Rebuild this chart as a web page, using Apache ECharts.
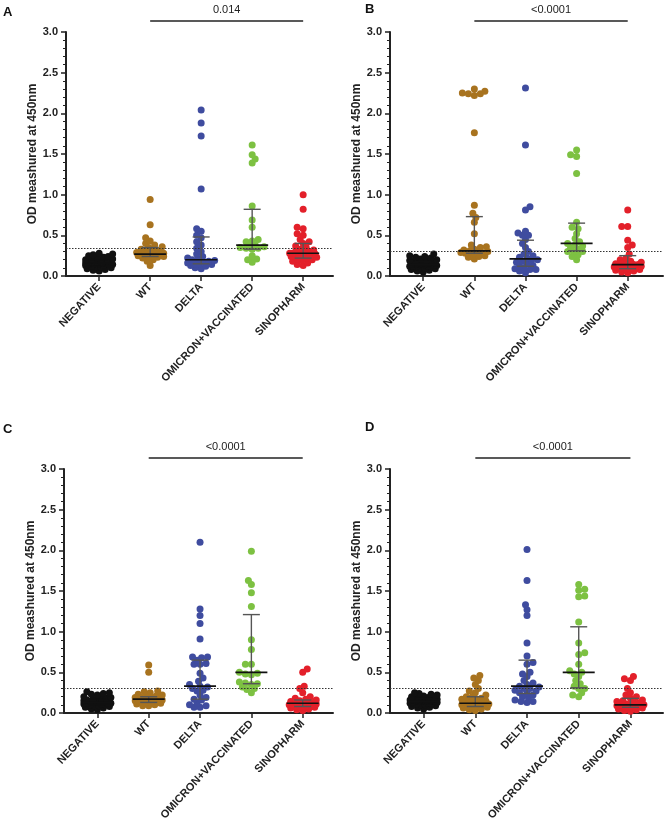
<!DOCTYPE html>
<html>
<head>
<meta charset="utf-8">
<script src="https://cdn.jsdelivr.net/npm/echarts@6/dist/echarts.min.js"></script>
<style>
  html, body { margin: 0; padding: 0; background: #fff; }
  #chartArea { width: 666px; height: 827px; }
</style>
</head>
<body>
<div id="chartArea"></div>
<script>
// categories / labels
const categories = ['NEGATIVE', 'WT', 'DELTA', 'OMICRON+VACCINATED', 'SINOPHARM'];
const groupColors = ['#111111', '#A8731F', '#3F4C9F', '#7DC142', '#E3202A'];
const panelLetters = ['A', 'B', 'C', 'D'];
const pValues = ['0.014', '<0.0001', '<0.0001', '<0.0001'];
const cutoffs = [0.34, 0.31, 0.30, 0.31];

// panel A
const negA = [0.28, 0.27, 0.26, 0.25, 0.24, 0.23, 0.22, 0.21, 0.2, 0.2, 0.19, 0.19, 0.18, 0.18, 0.17, 0.17, 0.17, 0.16, 0.16, 0.16, 0.15, 0.15, 0.15, 0.14, 0.14, 0.14, 0.13, 0.13, 0.12, 0.12, 0.11, 0.11, 0.1, 0.09, 0.08, 0.07, 0.06];
const wtA = [0.94, 0.63, 0.47, 0.43, 0.4, 0.38, 0.36, 0.35, 0.33, 0.32, 0.31, 0.3, 0.29, 0.28, 0.28, 0.27, 0.27, 0.26, 0.26, 0.25, 0.25, 0.24, 0.24, 0.23, 0.22, 0.2, 0.18, 0.13];
const deltaA = [2.04, 1.88, 1.72, 1.07, 0.58, 0.55, 0.5, 0.47, 0.42, 0.38, 0.34, 0.3, 0.27, 0.24, 0.22, 0.21, 0.2, 0.19, 0.18, 0.17, 0.16, 0.15, 0.15, 0.14, 0.13, 0.12, 0.1, 0.09];
const omiA = [1.61, 1.49, 1.44, 1.39, 0.86, 0.69, 0.6, 0.45, 0.43, 0.42, 0.38, 0.37, 0.36, 0.35, 0.34, 0.34, 0.33, 0.25, 0.21, 0.2, 0.17];
const sinoA = [1.0, 0.82, 0.6, 0.58, 0.52, 0.5, 0.45, 0.42, 0.4, 0.37, 0.35, 0.33, 0.32, 0.3, 0.3, 0.29, 0.28, 0.28, 0.27, 0.27, 0.26, 0.26, 0.25, 0.25, 0.24, 0.23, 0.22, 0.21, 0.2, 0.19, 0.18, 0.16, 0.14, 0.13];
// [q1, median, q3]
const iqrA = [[0.12, 0.16, 0.2], [0.24, 0.27, 0.35], [0.15, 0.2, 0.48], [0.33, 0.38, 0.82], [0.22, 0.28, 0.4]];

// panel B
const negB = [0.27, 0.25, 0.24, 0.23, 0.22, 0.21, 0.2, 0.19, 0.19, 0.18, 0.18, 0.17, 0.17, 0.16, 0.16, 0.15, 0.15, 0.15, 0.14, 0.14, 0.14, 0.13, 0.13, 0.13, 0.12, 0.12, 0.12, 0.11, 0.11, 0.1, 0.1, 0.09, 0.08, 0.07, 0.06, 0.05];
const wtB = [2.3, 2.27, 2.25, 2.24, 2.24, 2.22, 1.76, 0.87, 0.77, 0.72, 0.66, 0.52, 0.38, 0.36, 0.35, 0.33, 0.32, 0.31, 0.3, 0.3, 0.29, 0.29, 0.28, 0.27, 0.25, 0.24, 0.23, 0.21];
const deltaB = [2.31, 1.61, 0.85, 0.81, 0.55, 0.53, 0.5, 0.5, 0.45, 0.4, 0.35, 0.3, 0.27, 0.25, 0.23, 0.22, 0.2, 0.19, 0.18, 0.17, 0.15, 0.13, 0.12, 0.1, 0.09, 0.08, 0.08, 0.06, 0.04];
const omiB = [1.55, 1.49, 1.47, 1.26, 0.66, 0.6, 0.58, 0.52, 0.46, 0.42, 0.4, 0.38, 0.37, 0.35, 0.33, 0.3, 0.3, 0.3, 0.26, 0.24, 0.2];
const sinoB = [0.81, 0.61, 0.61, 0.44, 0.38, 0.35, 0.27, 0.22, 0.2, 0.18, 0.17, 0.16, 0.15, 0.14, 0.14, 0.13, 0.13, 0.12, 0.12, 0.11, 0.11, 0.1, 0.1, 0.09, 0.09, 0.08, 0.08, 0.07, 0.06, 0.05, 0.04];
const iqrB = [[0.11, 0.14, 0.18], [0.28, 0.31, 0.73], [0.12, 0.21, 0.44], [0.31, 0.4, 0.65], [0.09, 0.14, 0.25]];

// panel C
const negC = [0.26, 0.25, 0.24, 0.23, 0.22, 0.2, 0.19, 0.18, 0.18, 0.17, 0.16, 0.16, 0.15, 0.15, 0.14, 0.14, 0.14, 0.13, 0.13, 0.12, 0.12, 0.12, 0.11, 0.11, 0.1, 0.1, 0.09, 0.09, 0.08, 0.07, 0.06, 0.05, 0.04];
const wtC = [0.59, 0.5, 0.27, 0.26, 0.25, 0.23, 0.22, 0.21, 0.2, 0.19, 0.19, 0.18, 0.18, 0.17, 0.17, 0.16, 0.16, 0.15, 0.15, 0.14, 0.14, 0.13, 0.12, 0.11, 0.1, 0.09, 0.09];
const deltaC = [2.1, 1.28, 1.2, 1.1, 0.91, 0.69, 0.69, 0.68, 0.65, 0.61, 0.6, 0.6, 0.49, 0.43, 0.39, 0.35, 0.33, 0.32, 0.3, 0.28, 0.27, 0.22, 0.19, 0.17, 0.16, 0.12, 0.1, 0.09, 0.07, 0.07];
const omiC = [1.99, 1.63, 1.58, 1.48, 1.31, 0.9, 0.78, 0.6, 0.6, 0.5, 0.49, 0.48, 0.47, 0.38, 0.37, 0.36, 0.35, 0.32, 0.3, 0.29, 0.25];
const sinoC = [0.54, 0.5, 0.33, 0.3, 0.25, 0.2, 0.18, 0.17, 0.16, 0.15, 0.14, 0.13, 0.13, 0.12, 0.12, 0.11, 0.11, 0.1, 0.1, 0.09, 0.09, 0.08, 0.08, 0.07, 0.07, 0.06, 0.05, 0.04, 0.03];
const iqrC = [[0.1, 0.13, 0.17], [0.13, 0.17, 0.2], [0.17, 0.33, 0.65], [0.36, 0.5, 1.21], [0.08, 0.12, 0.16]];

// panel D
const negD = [0.25, 0.24, 0.23, 0.22, 0.21, 0.2, 0.19, 0.19, 0.18, 0.18, 0.17, 0.17, 0.16, 0.16, 0.15, 0.15, 0.15, 0.14, 0.14, 0.14, 0.13, 0.13, 0.12, 0.12, 0.11, 0.11, 0.1, 0.1, 0.09, 0.08, 0.07, 0.06, 0.05];
const wtD = [0.46, 0.43, 0.4, 0.35, 0.3, 0.27, 0.25, 0.22, 0.2, 0.2, 0.18, 0.17, 0.16, 0.15, 0.14, 0.13, 0.12, 0.12, 0.11, 0.1, 0.1, 0.09, 0.09, 0.08, 0.07, 0.06, 0.05, 0.04, 0.03];
const deltaD = [2.01, 1.63, 1.33, 1.27, 1.2, 0.86, 0.7, 0.62, 0.6, 0.5, 0.48, 0.45, 0.4, 0.37, 0.35, 0.33, 0.32, 0.3, 0.3, 0.28, 0.27, 0.25, 0.25, 0.22, 0.2, 0.19, 0.16, 0.14, 0.14, 0.13];
const omiD = [1.58, 1.52, 1.51, 1.44, 1.43, 1.12, 0.86, 0.74, 0.72, 0.6, 0.52, 0.5, 0.48, 0.45, 0.4, 0.36, 0.33, 0.3, 0.3, 0.25, 0.22, 0.2];
const sinoD = [0.45, 0.42, 0.4, 0.3, 0.25, 0.22, 0.2, 0.18, 0.16, 0.15, 0.14, 0.13, 0.12, 0.11, 0.11, 0.1, 0.1, 0.1, 0.09, 0.09, 0.08, 0.08, 0.07, 0.07, 0.06, 0.05, 0.04, 0.03, 0.02];
const iqrD = [[0.11, 0.14, 0.18], [0.08, 0.12, 0.2], [0.24, 0.33, 0.65], [0.31, 0.5, 1.06], [0.07, 0.1, 0.18]];

const panels = [
  [negA, wtA, deltaA, omiA, sinoA],
  [negB, wtB, deltaB, omiB, sinoB],
  [negC, wtC, deltaC, omiC, sinoC],
  [negD, wtD, deltaD, omiD, sinoD]
];
const iqrs = [iqrA, iqrB, iqrC, iqrD];

// 레이아웃
const X_MIN = -0.65;
const Y_MAX = 3;
const layout = [
  { left: 66, top: 32, width: 267, height: 244, xMax: 4.585, letterX: 3, letterY: 6 },
  { left: 390, top: 32, width: 273, height: 244, xMax: 4.69, letterX: 365, letterY: 3 },
  { left: 64, top: 469, width: 269, height: 244, xMax: 4.59, letterX: 3, letterY: 423 },
  { left: 390, top: 469, width: 273, height: 244, xMax: 4.63, letterX: 365, letterY: 421 }
];
const FONT = 'Liberation Sans, Arial, sans-serif';
const DOT = 7;
const MIN_DIST = 5;

// deterministic beeswarm: returns [x offset in px, y in px, value]
function swarm(values, pxY) {
  const placed = [];
  const sorted = values.slice().sort((a, b) => a - b);
  sorted.forEach((v, n) => {
    const py = v * pxY;
    let pick = null, fallback = 0, fallbackD = -1;
    for (let k = 0; k <= 9 && pick === null; k++) {
      const s = n % 2 === 0 ? 1 : -1;
      const cands = k === 0 ? [0] : [s * k * 1.5, -s * k * 1.5];
      for (const px of cands) {
        let minD = Infinity;
        placed.forEach(p => {
          const d = Math.hypot(p[0] - px, p[1] - py);
          if (d < minD) minD = d;
        });
        if (minD >= MIN_DIST) { pick = px; break; }
        if (minD > fallbackD) { fallbackD = minD; fallback = px; }
      }
    }
    placed.push([pick === null ? fallback : pick, py, v]);
  });
  return placed;
}

const chartDom = document.getElementById('chartArea');
const myChart = echarts.init(chartDom);

let grids = [], xAxes = [], yAxes = [], series = [];

layout.forEach((g, k) => {
  grids.push({ left: g.left, top: g.top, width: g.width, height: g.height, containLabel: false, outerBoundsMode: 'none' });
  const pxX = g.width / (g.xMax - X_MIN);
  const pxY = g.height / Y_MAX;

  xAxes.push({
    type: 'value', gridIndex: k, min: X_MIN, max: g.xMax,
    splitLine: { show: false },
    axisLine: { show: true, onZero: false, lineStyle: { color: '#222', width: 2 } },
    axisTick: { show: true, customValues: [0, 1, 2, 3, 4], length: 5, lineStyle: { color: '#222', width: 1.5 } },
    axisLabel: {
      show: true, customValues: [0, 1, 2, 3, 4], rotate: 47, margin: 9,
      formatter: v => categories[Math.round(v)],
      color: '#222', fontFamily: FONT, fontWeight: 'bold', fontSize: 11
    }
  });
  yAxes.push({
    type: 'value', gridIndex: k, min: 0, max: Y_MAX, interval: 0.5,
    name: 'OD meashured at 450nm', nameLocation: 'middle', nameGap: 27,
    nameTextStyle: { color: '#222', fontFamily: FONT, fontWeight: 'bold', fontSize: 12 },
    splitLine: { show: false },
    axisLine: { show: true, onZero: false, lineStyle: { color: '#222', width: 2 } },
    axisTick: { show: true, length: 5, lineStyle: { color: '#222', width: 1.5 } },
    minorTick: { show: true, splitNumber: 5, length: 3, lineStyle: { color: '#222', width: 1 } },
    axisLabel: {
      formatter: v => v.toFixed(1), margin: 8,
      color: '#222', fontFamily: FONT, fontWeight: 'bold', fontSize: 11
    }
  });

  panels[k].forEach((vals, i) => {
    const pts = swarm(vals, pxY).map(p => [i + p[0] / pxX, p[2]]);
    const s = {
      type: 'scatter', xAxisIndex: k, yAxisIndex: k,
      data: pts, symbol: 'circle', symbolSize: DOT,
      itemStyle: { color: groupColors[i], opacity: 1 },
      silent: true, z: 2
    };
    if (i === 0) {
      s.markLine = {
        silent: true, symbol: ['none', 'none'], label: { show: false },
        lineStyle: { type: [1.5, 1.5], color: '#333', width: 1.2 },
        data: [{ yAxis: cutoffs[k] }]
      };
    }
    series.push(s);
  });

  // median + interquartile range
  series.push({
    type: 'custom', xAxisIndex: k, yAxisIndex: k, z: 5, silent: true,
    data: iqrs[k].map((r, i) => [i, r[0], r[1], r[2]]),
    encode: { x: 0, y: [1, 2, 3] },
    renderItem: function (params, api) {
      const x = api.value(0);
      const lo = api.coord([x, api.value(1)]);
      const md = api.coord([x, api.value(2)]);
      const hi = api.coord([x, api.value(3)]);
      const whisk = { stroke: x === 0 ? '#111' : '#555', lineWidth: 1.4 };
      return {
        type: 'group',
        children: [
          { type: 'line', shape: { x1: lo[0], y1: lo[1], x2: hi[0], y2: hi[1] }, style: whisk },
          { type: 'line', shape: { x1: lo[0] - 8.5, y1: lo[1], x2: lo[0] + 8.5, y2: lo[1] }, style: whisk },
          { type: 'line', shape: { x1: hi[0] - 8.5, y1: hi[1], x2: hi[0] + 8.5, y2: hi[1] }, style: whisk },
          { type: 'line', shape: { x1: md[0] - 16, y1: md[1], x2: md[0] + 16, y2: md[1] }, style: { stroke: '#111', lineWidth: 1.7 } }
        ]
      };
    }
  });
});

let option = {
  animation: false,
  backgroundColor: '#fff',
  grid: grids,
  xAxis: xAxes,
  yAxis: yAxes,
  series: series
};
option && myChart.setOption(option);

// 유의성 표시 + 패널 문자
const gfx = [];
layout.forEach((g, k) => {
  const p1 = myChart.convertToPixel({ gridIndex: k }, [1, 3.135]);
  const p2 = myChart.convertToPixel({ gridIndex: k }, [4, 3.135]);
  gfx.push({
    type: 'line', silent: true,
    shape: { x1: p1[0], y1: p1[1], x2: p2[0], y2: p2[1] },
    style: { stroke: '#222', lineWidth: 1.6 }
  });
  gfx.push({
    type: 'text', silent: true,
    style: {
      text: pValues[k], x: (p1[0] + p2[0]) / 2, y: p1[1] - 11,
      textAlign: 'center', textVerticalAlign: 'middle',
      fill: '#222', font: 'normal 11px ' + FONT
    }
  });
  gfx.push({
    type: 'text', silent: true,
    style: {
      text: panelLetters[k], x: g.letterX, y: g.letterY,
      textAlign: 'left', textVerticalAlign: 'top',
      fill: '#111', font: 'bold 13px ' + FONT
    }
  });
});
myChart.setOption({ graphic: gfx });
</script>
</body>
</html>
